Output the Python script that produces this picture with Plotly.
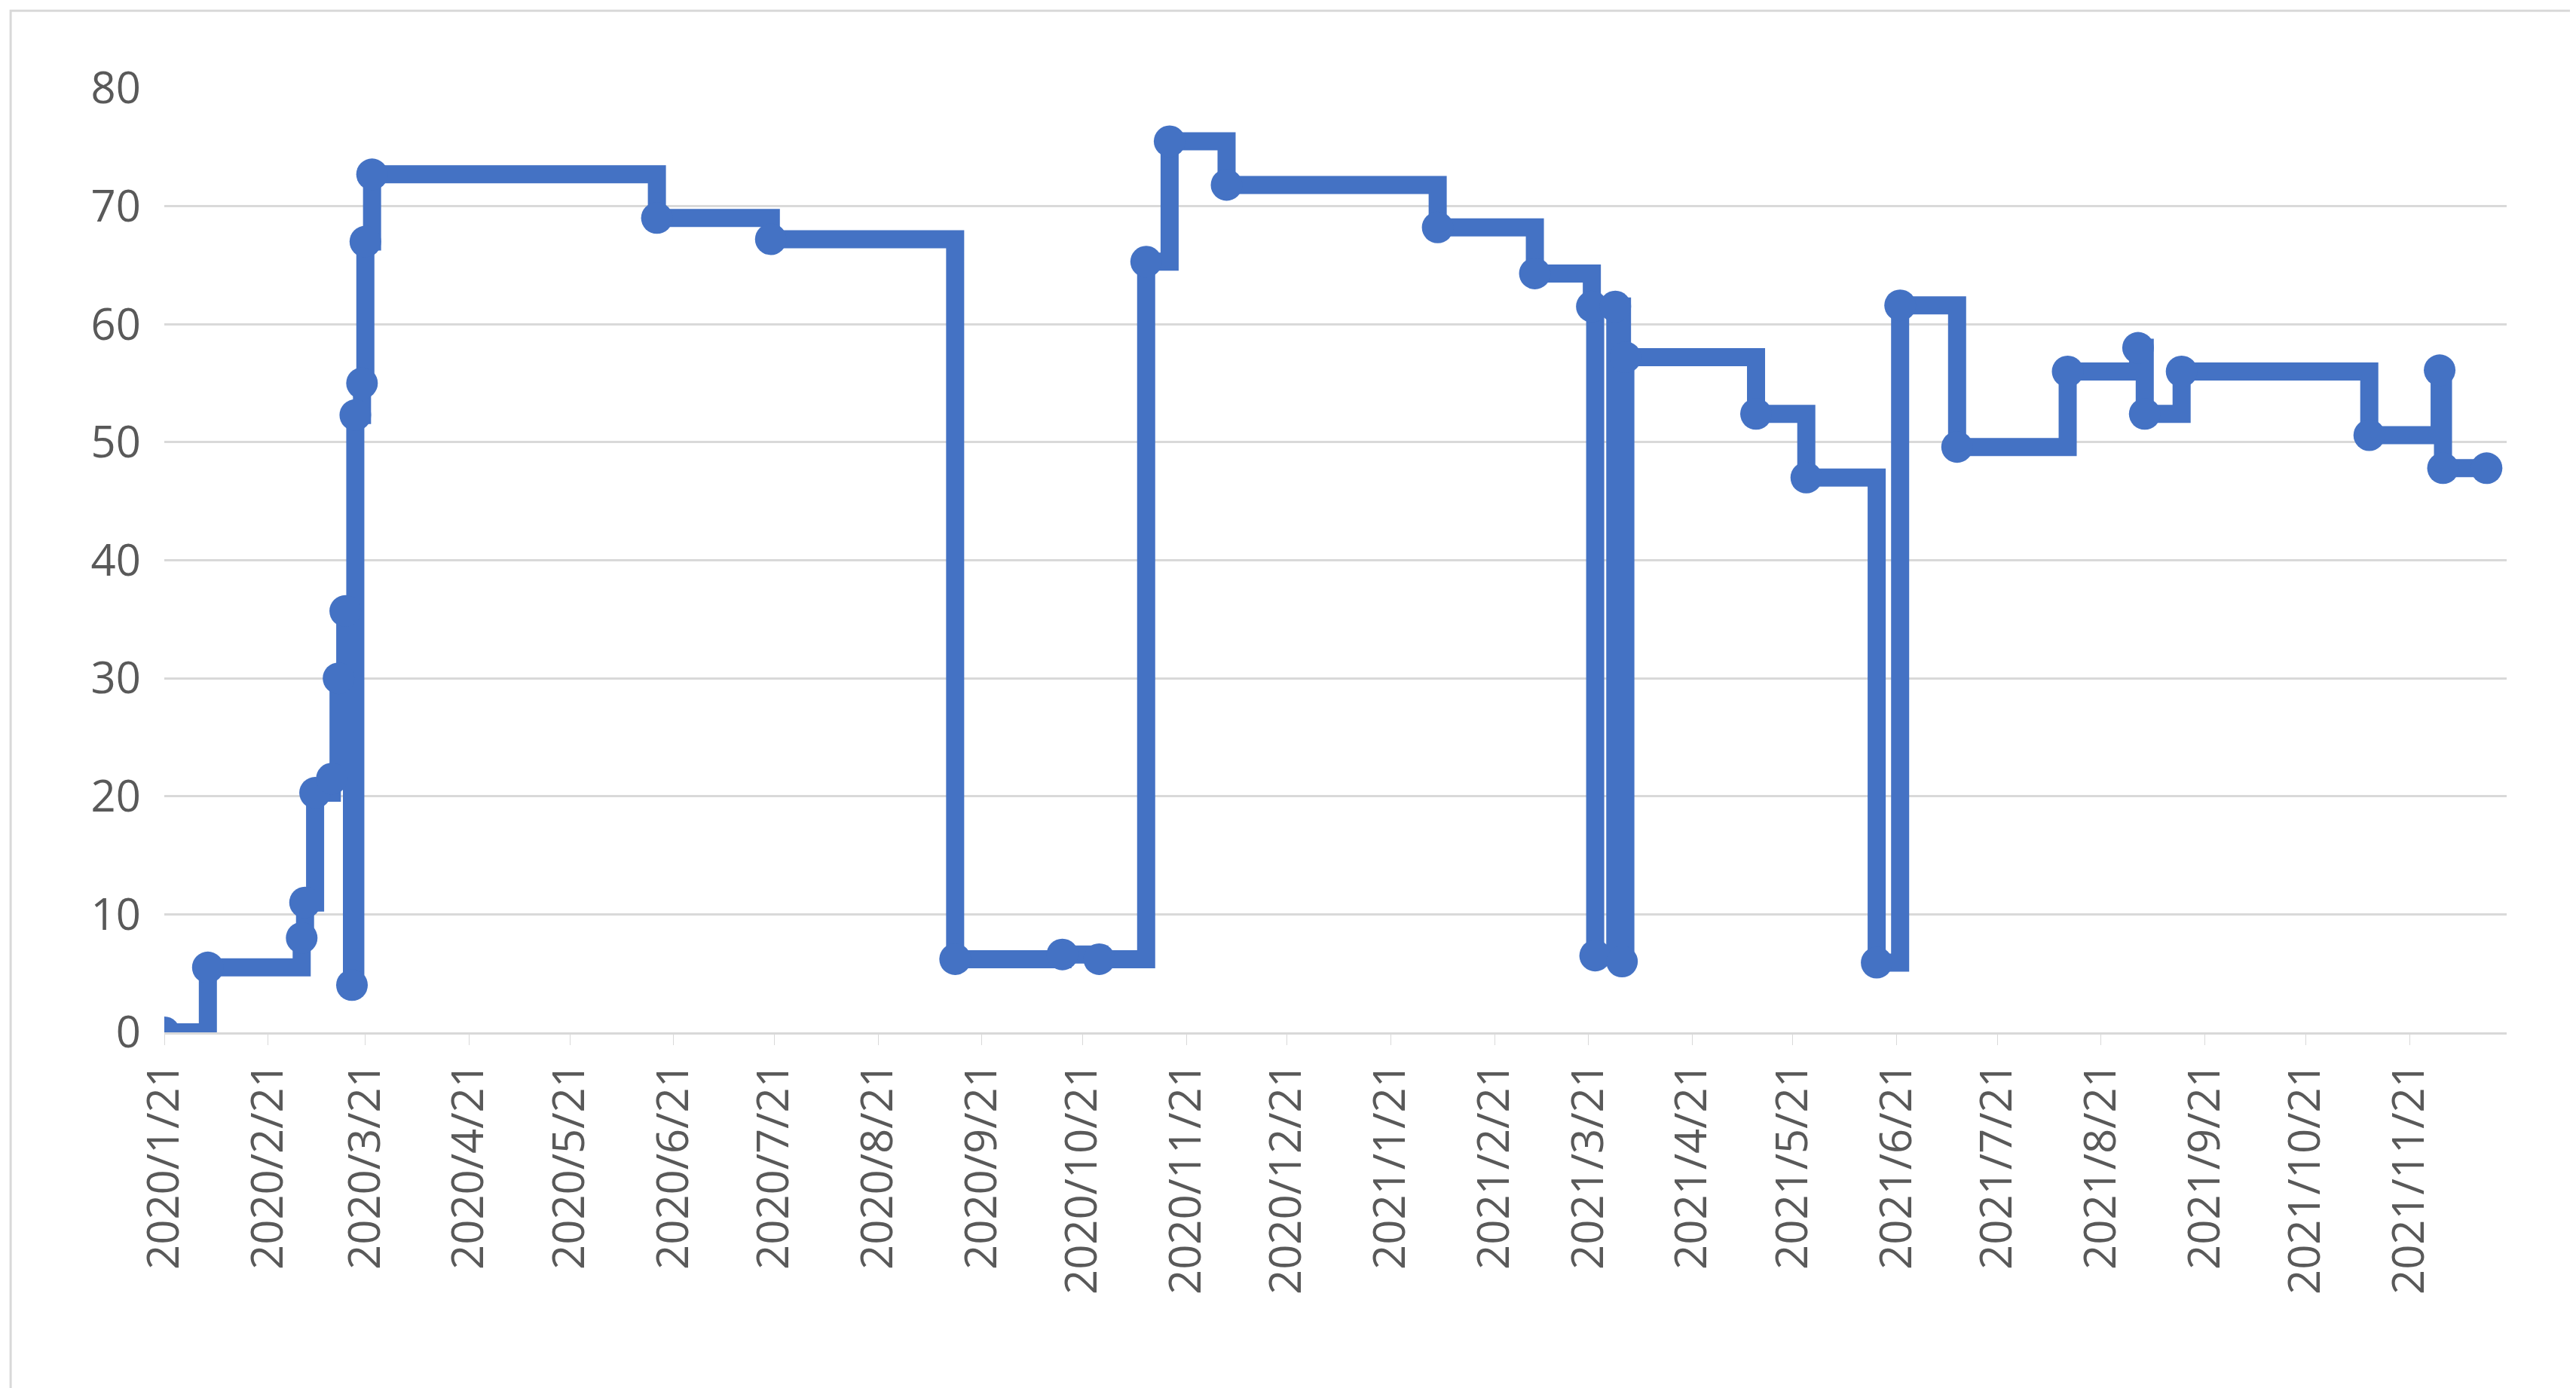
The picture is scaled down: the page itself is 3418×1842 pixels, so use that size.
import plotly.graph_objects as go

dates = ["2020-01-21","2020-02-03","2020-03-02","2020-03-03","2020-03-06","2020-03-11","2020-03-13",
         "2020-03-15","2020-03-17","2020-03-18","2020-03-20","2020-03-21","2020-03-23","2020-06-16",
         "2020-07-20","2020-09-13","2020-10-15","2020-10-26","2020-11-09","2020-11-16","2020-12-03",
         "2021-02-04","2021-03-05","2021-03-22","2021-03-23","2021-03-29","2021-03-31","2021-04-01",
         "2021-05-10","2021-05-25","2021-06-15","2021-06-22","2021-07-09","2021-08-11","2021-09-01",
         "2021-09-03","2021-09-14","2021-11-09","2021-11-30","2021-12-01","2021-12-14"]
values = [0,5.5,8,11,20.3,21.5,30,35.7,4,52.3,55,67,72.7,69,67.2,6.2,6.6,6.2,65.3,75.5,71.8,
          68.2,64.3,61.5,6.5,61.5,6,57.2,52.4,47,5.9,61.6,49.6,56,58,52.4,56,50.6,56.1,47.8,47.8]

tick_dates = ["2020-%02d-21" % m for m in range(1, 13)] + ["2021-%02d-21" % m for m in range(1, 12)]
tick_text = ["2020/%d/21" % m for m in range(1, 13)] + ["2021/%d/21" % m for m in range(1, 12)]

fig = go.Figure(go.Scatter(
    x=dates, y=values, mode="lines+markers", line=dict(color="#4472C4", width=24, shape="hv"),
    marker=dict(size=42, color="#4472C4")))
fig.update_layout(
    width=3418, height=1842, paper_bgcolor="white", plot_bgcolor="white",
    margin=dict(l=210, r=100, t=109, b=480), showlegend=False,
    font=dict(family="Open Sans", size=58, color="#595959"),
    shapes=[dict(type="rect", xref="paper", yref="paper", x0=-0.0656, x1=1.030, y0=-0.378, y1=1.082,
                 line=dict(color="#D9D9D9", width=3))])
fig.update_xaxes(range=["2020-01-21", "2021-12-20"], tickvals=tick_dates, ticktext=tick_text,
                 tickangle=-90, showgrid=False, ticks="outside", ticklen=14, tickcolor="#D9D9D9",
                 showline=True, linecolor="#D9D9D9", linewidth=3)
fig.update_yaxes(range=[0, 80], dtick=10, gridcolor="#D9D9D9", gridwidth=3, zeroline=False,
                 ticksuffix="  ")
fig.write_html("out.html")
